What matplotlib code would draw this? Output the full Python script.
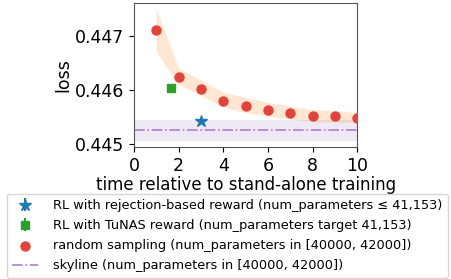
import matplotlib
matplotlib.use('Agg')
import matplotlib.pyplot as plt
import numpy as np

# random sampling curve
time_rand = [1, 2, 3, 4, 5, 6, 7, 8, 9, 10]
loss_rand = [0.44711, 0.44623, 0.44601, 0.44580, 0.44571, 0.44563, 0.44557, 0.44552, 0.44551, 0.44548]
band_hi = [0.44750, 0.44640, 0.44618, 0.44596, 0.44586, 0.44577, 0.44570, 0.44564, 0.44561, 0.44558]
band_lo = [0.44670, 0.44610, 0.44590, 0.44568, 0.44558, 0.44551, 0.44546, 0.44541, 0.44540, 0.44540]

# RL runs
rl_rej_time, rl_rej_loss, rl_rej_err = 3.0, 0.44543, 0.00005
rl_tunas_time, rl_tunas_loss, rl_tunas_err = 1.68, 0.44604, 0.00006

# skyline
skyline_loss = 0.445247
skyline_lo, skyline_hi = 0.44506, 0.44544

fig = plt.figure(figsize=(4.51, 2.79), dpi=100)
ax = fig.add_axes([0.297, 0.473, 0.495, 0.516])

ax.fill_between([0, 10], skyline_lo, skyline_hi, color='tab:purple', alpha=0.15, linewidth=0)
ax.axhline(skyline_loss, color='tab:purple', linestyle='-.', linewidth=1.2,
           label='skyline (num_parameters in [40000, 42000])', alpha=0.8)

ax.fill_between(time_rand, band_lo, band_hi, color='tab:orange', alpha=0.18, linewidth=0)
ax.scatter(time_rand, loss_rand, color='#e0443a', s=42, zorder=3,
           label='random sampling (num_parameters in [40000, 42000])')

ax.errorbar([rl_rej_time], [rl_rej_loss], yerr=[rl_rej_err], fmt='*', color='tab:blue',
            markersize=9, label='RL with rejection-based reward (num_parameters \u2264 41,153)', zorder=4)
ax.errorbar([rl_tunas_time], [rl_tunas_loss], yerr=[rl_tunas_err], fmt='s', color='tab:green',
            markersize=6, label='RL with TuNAS reward (num_parameters target 41,153)', zorder=4)

ax.set_xlim(0, 10)
ax.set_ylim(0.44494, 0.44761)
ax.set_xticks([0, 2, 4, 6, 8, 10])
ax.set_yticks([0.445, 0.446, 0.447])
ax.tick_params(labelsize=12.5)
ax.set_xlabel('time relative to stand-alone training', fontsize=12, labelpad=1)
ax.set_ylabel('loss', fontsize=12.5, labelpad=2)
for s in ax.spines.values():
    s.set_color('#555555')

handles, labels = ax.get_legend_handles_labels()
order = [2, 3, 1, 0]
fig.legend([handles[i] for i in order], [labels[i] for i in order],
           loc='upper left', bbox_to_anchor=(0.015, 0.305), fontsize=9.3,
           frameon=True, handletextpad=1.2, borderaxespad=0, labelspacing=0.55)

fig.savefig('out.png', dpi=100)
